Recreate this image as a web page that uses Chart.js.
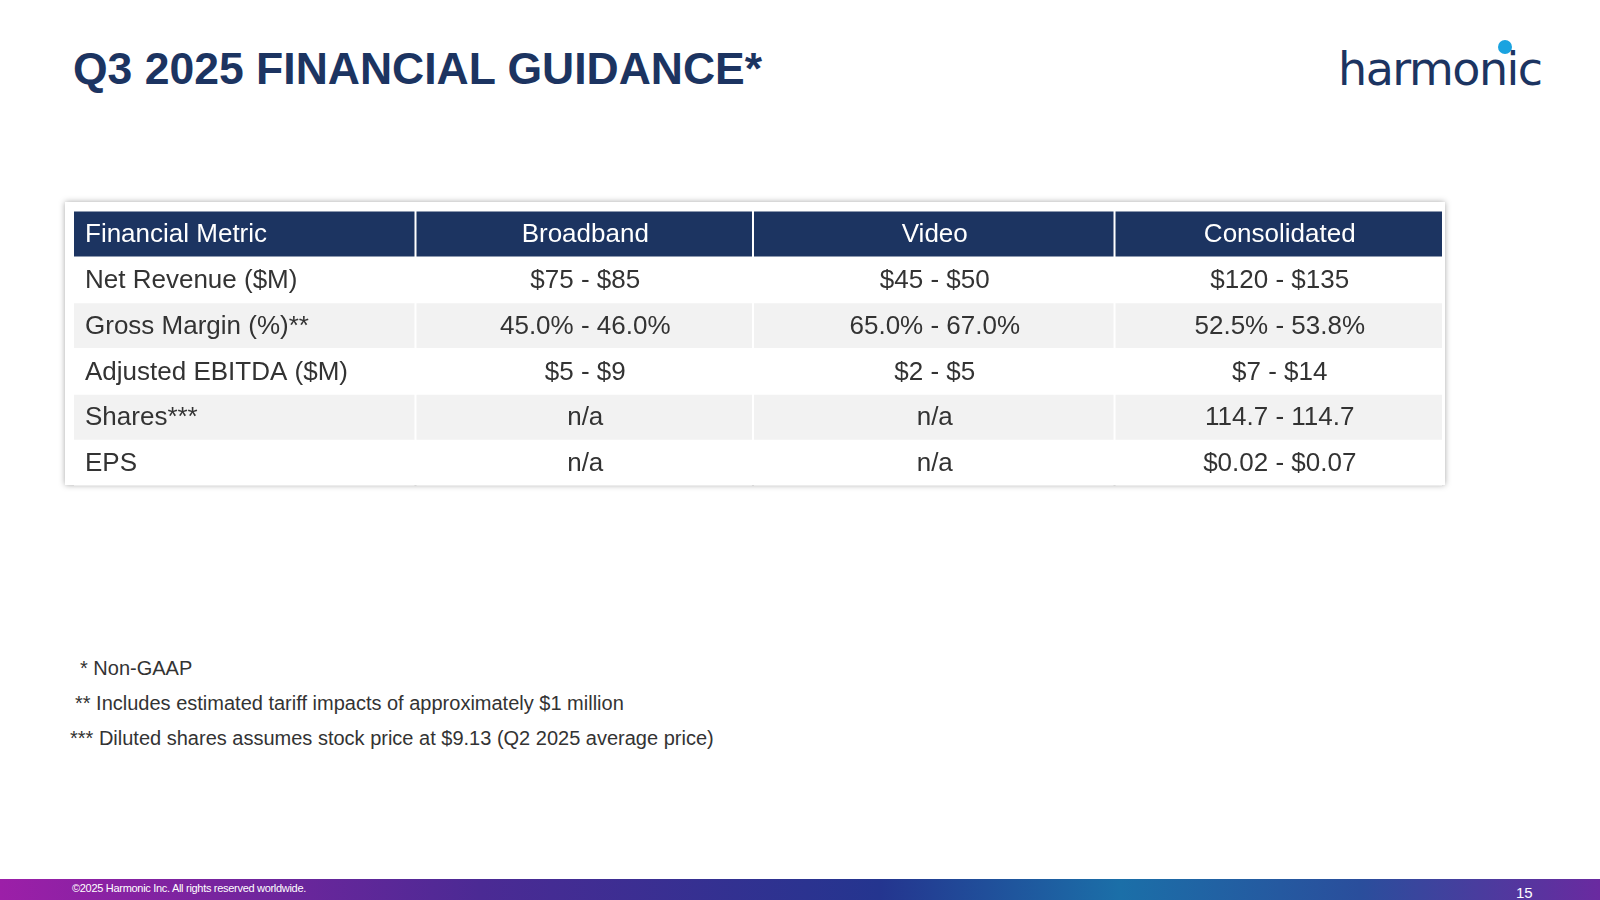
<!DOCTYPE html>
<html><head><meta charset="utf-8">
<script src="https://cdn.jsdelivr.net/npm/chart.js@4/dist/chart.umd.min.js"></script>
<style>
body{margin:0;width:1600px;height:900px;background:#fff;font-family:"Liberation Sans",Arial,sans-serif;position:relative;overflow:hidden}
#title{position:absolute;left:73px;top:44px;font-size:44.5px;font-weight:bold;color:#1c3461}
#logo{position:absolute;left:1338px;top:42px;font-size:46px;color:#1c3461;font-family:"DejaVu Sans";letter-spacing:-1.5px}
#dot{position:absolute;left:1498px;top:40px;width:14px;height:14px;border-radius:50%;background:#1aa3e0}
#box{position:absolute;left:65px;top:202px;width:1380px;height:283px;background:#fff;box-shadow:0 0 6px rgba(0,0,0,.35)}
#wrap{position:absolute;left:9px;top:9px;width:1370px;height:275px}
.fn{position:absolute;font-size:20px;color:#333}
#bar{position:absolute;left:0;top:879px;width:1600px;height:21px;background:linear-gradient(90deg,#9c1fa8 0%,#4b2a94 30%,#24358f 55%,#1b6fa8 70%,#2a4e9c 85%,#6a2aa0 100%)}
#copy{position:absolute;left:72px;top:882px;font-size:11px;color:#fff;letter-spacing:-.3px}
#pg{position:absolute;left:1516px;top:884px;font-size:15px;color:#fff}
</style></head><body>
<div id="title">Q3 2025 FINANCIAL GUIDANCE*</div>
<div id="logo">harmonic</div><div id="dot"></div>
<div id="box"><div id="wrap"><canvas id="c"></canvas></div></div>
<div class="fn" style="left:80px;top:657px">* Non-GAAP</div>
<div class="fn" style="left:75px;top:692px">** Includes estimated tariff impacts of approximately $1 million</div>
<div class="fn" style="left:70px;top:727px">*** Diluted shares assumes stock price at $9.13 (Q2 2025 average price)</div>
<div id="bar"></div>
<div id="copy">©2025 Harmonic Inc. All rights reserved worldwide.</div>
<div id="pg">15</div>
<script>
const headers = ['Financial Metric', 'Broadband', 'Video', 'Consolidated'];
const metrics = ['Net Revenue ($M)', 'Gross Margin (%)**', 'Adjusted EBITDA ($M)', 'Shares***', 'EPS'];
const broadband = ['$75 - $85', '45.0% - 46.0%', '$5 - $9', 'n/a', 'n/a'];
const video = ['$45 - $50', '65.0% - 67.0%', '$2 - $5', 'n/a', 'n/a'];
const consolidated = ['$120 - $135', '52.5% - 53.8%', '$7 - $14', '114.7 - 114.7', '$0.02 - $0.07'];
const colEdges = [0, 342, 679, 1040, 1368];

const rows = [headers];
metrics.forEach((m, i) => rows.push([m, broadband[i], video[i], consolidated[i]]));
const rowLabels = rows.map((r, i) => 'r' + i);
function rowColor(i) { return i == 0 ? '#1c3461' : (i % 2 == 0 ? '#f2f2f2' : '#ffffff'); }

const datasets = [];
for (let j = 0; j < 4; j++) {
  datasets.push({
    data: rows.map((r, i) => [colEdges[j], colEdges[j + 1] - 2]),
    backgroundColor: rows.map((r, i) => rowColor(i)),
    borderWidth: 0, grouped: false, barPercentage: 1, categoryPercentage: 0.98
  });
}

const cellText = {
  id: 'cellText',
  afterDatasetsDraw(chart) {
    const ctx = chart.ctx, x = chart.scales.x, y = chart.scales.y;
    ctx.save();
    ctx.font = '26px "Liberation Sans", Arial, sans-serif';
    ctx.textBaseline = 'middle';
    rows.forEach((r, i) => {
      const py = y.getPixelForValue(i) + 1;
      ctx.fillStyle = i == 0 ? '#ffffff' : '#333333';
      r.forEach((t, j) => {
        if (j == 0) { ctx.textAlign = 'left'; ctx.fillText(t, x.getPixelForValue(colEdges[0]) + 11, py); }
        else { ctx.textAlign = 'center'; ctx.fillText(t, x.getPixelForValue((colEdges[j] + colEdges[j + 1]) / 2), py); }
      });
    });
    ctx.restore();
  }
};

new Chart(document.getElementById('c'), {
  type: 'bar',
  data: { labels: rowLabels, datasets: datasets },
  options: {
    indexAxis: 'y', animation: false, responsive: true, maintainAspectRatio: false,
    layout: { padding: 0 },
    plugins: { legend: { display: false }, tooltip: { enabled: false } },
    scales: {
      x: { type: 'linear', min: 0, max: 1368, display: false },
      y: { display: false, offset: true }
    }
  },
  plugins: [cellText]
});
</script>
</body></html>
